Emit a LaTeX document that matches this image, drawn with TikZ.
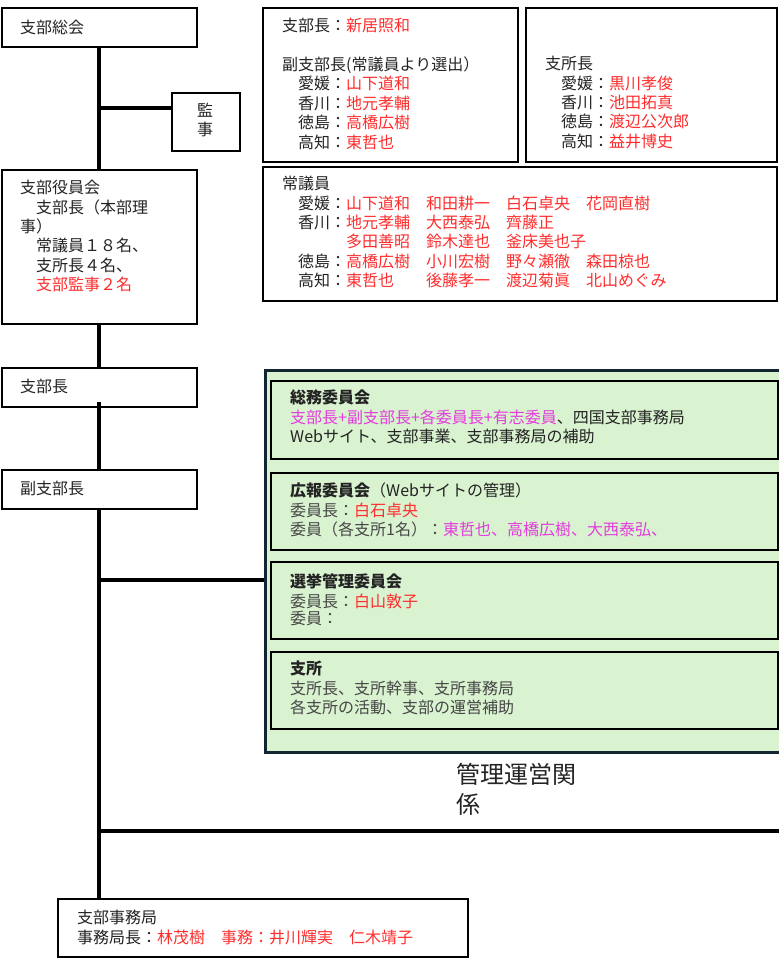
\documentclass[tikz,border=0pt]{standalone}
\usepackage{fontspec}
\setmainfont{Noto Sans CJK JP}
\usetikzlibrary{calc}
\definecolor{cred}{RGB}{255,45,45}
\definecolor{cmag}{RGB}{228,60,222}
\definecolor{ctxt}{RGB}{35,35,35}
\definecolor{cgray}{RGB}{70,70,70}
\definecolor{gfill}{RGB}{217,242,208}
\definecolor{gline}{RGB}{18,38,50}
\newcommand{\redtxt}[1]{\textcolor{cred}{#1}}
\newcommand{\magtxt}[1]{\textcolor{cmag}{#1}}
\newcommand{\graytxt}[1]{\textcolor{cgray}{#1}}
\begin{document}
\begin{tikzpicture}[x=1pt,y=-1pt,
  box/.style={draw=black, line width=1.8pt, fill=white, inner sep=0pt, anchor=north west},
  gbox/.style={draw=black, line width=1.8pt, fill=gfill, inner sep=0pt, anchor=north west},
  conn/.style={draw=black, line width=4pt},
  txt/.style={anchor=north west, inner sep=0pt, align=left, text=ctxt, font=\fontsize{16}{19.4}\selectfont},
]
\useasboundingbox (0,0) rectangle (779,959);
\clip (0,0) rectangle (779,959);
\fill[white] (0,0) rectangle (779,959);

% left column boxes
\node[box, minimum width=195pt, minimum height=39pt] (soukai) at (1,7) {};
\node[box, minimum width=68pt, minimum height=58pt] (kanji) at (171,92) {};
\node[box, minimum width=195pt, minimum height=154pt] (yakuin) at (1,169) {};
\node[box, minimum width=195pt, minimum height=39pt] (bucho) at (1,367) {};
\node[box, minimum width=195pt, minimum height=39pt] (fuku) at (1,469) {};
\node[box, minimum width=410pt, minimum height=58pt] (jimu) at (57,898) {};

% right top boxes
\node[box, minimum width=255pt, minimum height=154pt] (fukuA) at (262,7) {};
\node[box, minimum width=251pt, minimum height=154pt] (shisho) at (525,7) {};
\node[box, minimum width=514pt, minimum height=134pt] (jogi) at (262,166) {};

% green area
\node[draw=gline, line width=3pt, fill=gfill, anchor=north west, inner sep=0pt,
      minimum width=530pt, minimum height=382pt] (green) at (264,369) {};
\node[gbox, minimum width=507pt, minimum height=78pt] (g1) at (270,380) {};
\node[gbox, minimum width=507pt, minimum height=77pt] (g2) at (270,472) {};
\node[gbox, minimum width=507pt, minimum height=77pt] (g3) at (270,561) {};
\node[gbox, minimum width=507pt, minimum height=77pt] (g4) at (270,651) {};

% connectors
\draw[conn] (soukai.south) -- (yakuin.north);
\coordinate (k) at (98,108);
\draw[conn] (k) -- (k -| kanji.west);
\draw[conn] (yakuin.south) -- (bucho.north);
\draw[conn] ($(bucho.south)+(0,-6)$) -- (fuku.north);
\draw[conn] (fuku.south) -- (fuku.south |- jimu.north);
\coordinate (j1) at (98,580);
\draw[conn] (j1) -- (j1 -| green.west);
\coordinate (j2) at (98,831);
\coordinate (j2e) at (785,831);
\draw[conn] (j2) -- (j2e);

% texts
\node[txt] (tsoukai) at (20,20) {支部総会};
\node[txt, align=center, anchor=north] (tkanji) at (205,103) {監\\事};
\node[txt] (tyakuin) at (20,180) {支部役員会\\　支部長（本部理\\事）\\　常議員１８名、\\　支所長４名、\\　\redtxt{支部監事２名}};
\node[txt] (tbucho) at (20,379) {支部長};
\node[txt] (tfuku) at (20,481) {副支部長};

\node[txt] (tA) at (282,18) {支部長：\redtxt{新居照和}\\[19.4pt]副支部長(常議員より選出）\\　愛媛：\redtxt{山下道和}\\　香川：\redtxt{地元孝輔}\\　徳島：\redtxt{高橋広樹}\\　高知：\redtxt{東哲也}};
\node[txt] (tB) at (545,56) {支所長\\　愛媛：\redtxt{黒川孝俊}\\　香川：\redtxt{池田拓真}\\　徳島：\redtxt{渡辺公次郎}\\　高知：\redtxt{益井博史}};
\node[txt] (tC) at (282,176) {常議員\\　愛媛：\redtxt{山下道和　和田耕一　白石卓央　花岡直樹}\\　香川：\redtxt{地元孝輔　大西泰弘　齊藤正}\\　　　　\redtxt{多田善昭　鈴木達也　釜床美也子}\\　徳島：\redtxt{高橋広樹　小川宏樹　野々瀬徹　森田椋也}\\　高知：\redtxt{東哲也　　後藤孝一　渡辺菊眞　北山めぐみ}};

\node[txt] (tg1) at (290,390) {\textbf{総務委員会}\\\magtxt{支部長+副支部長+各委員長+有志委員}、四国支部事務局\\Webサイト、支部事業、支部事務局の補助};
\node[txt] (tg2) at (290,483) {\textbf{広報委員会}（Webサイトの管理）\\\graytxt{委員長：}\redtxt{白石卓央}\\\graytxt{委員（各支所1名）：}\magtxt{東哲也、高橋広樹、大西泰弘、}};
\node[txt] (tg3) at (290,573) {\textbf{選挙管理委員会}\\[1.5pt]\graytxt{委員長：}\redtxt{白山敦子}\\[-2.5pt]\graytxt{委員：}};
\node[txt] (tg4) at (290,661) {\textbf{支所}\\\graytxt{支所長、支所幹事、支所事務局}\\\graytxt{各支所の活動、支部の運営補助}};

\node[anchor=north west, inner sep=0pt, align=left, text=ctxt, font=\fontsize{24}{30}\selectfont] (kanri) at (456,763) {管理運営関\\係};

\node[txt] (tjimu) at (77,910) {支部事務局\\事務局長：\redtxt{林茂樹　事務：井川輝実　仁木靖子}};
\end{tikzpicture}
\end{document}
